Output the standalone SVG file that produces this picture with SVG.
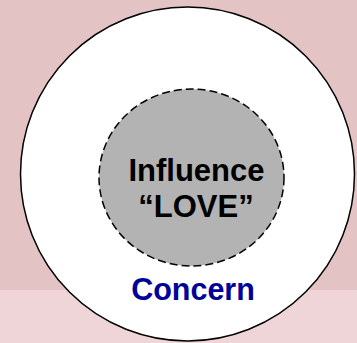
<svg xmlns="http://www.w3.org/2000/svg" width="357" height="343" viewBox="0 0 357 343">
<style>
.lbl{font-family:"Liberation Sans",Arial,sans-serif;font-weight:bold;text-anchor:middle}
</style>
<rect x="0" y="0" width="357" height="290" fill="#e3c3c4"/>
<rect x="0" y="290" width="357" height="53" fill="#f0d5d8"/>
<g id="concern">
<circle cx="187.5" cy="174" r="167" fill="#ffffff" stroke="#000000" stroke-width="1.5"/>
<text class="lbl" x="193" y="300" font-size="30.5" fill="#000099">Concern</text>
</g>
<g id="influence">
<ellipse cx="191.5" cy="177.5" rx="92.5" ry="88.5" fill="#b3b3b3" stroke="#000000" stroke-width="1.5" stroke-dasharray="8,4"/>
<text class="lbl" x="196.5" y="181" font-size="31" fill="#000000">Influence</text>
<text class="lbl" x="196" y="217" font-size="31" fill="#000000">“LOVE”</text>
</g>
</svg>
